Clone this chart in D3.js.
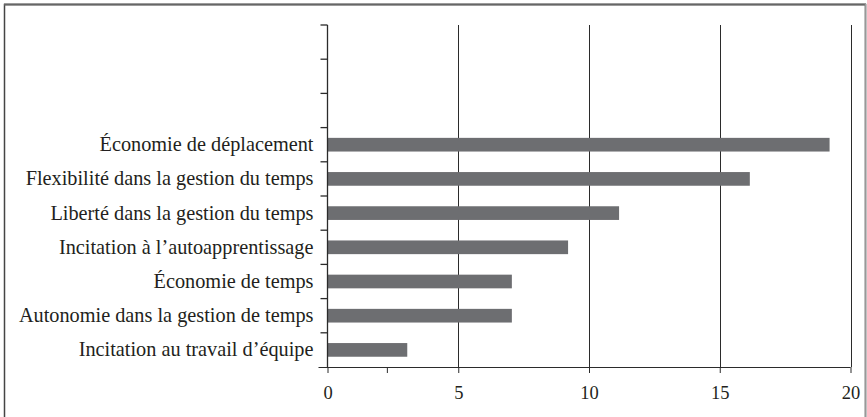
<!DOCTYPE html>
<html><head><meta charset="utf-8">
<script src="https://cdn.jsdelivr.net/npm/d3@7"></script>
<style>
html,body{margin:0;padding:0;background:#fff;}
svg{display:block;}
</style></head>
<body>
<script>
const categories = ["", " ", "  ",
  "Économie de déplacement",
  "Flexibilité dans la gestion du temps",
  "Liberté dans la gestion du temps",
  "Incitation à l’autoapprentissage",
  "Économie de temps",
  "Autonomie dans la gestion de temps",
  "Incitation au travail d’équipe"];
const values = [null, null, null, 19.2, 16.15, 11.15, 9.2, 7.05, 7.05, 3.05];
const xTicks = [0, 5, 10, 15, 20];
const xTickLabels = ["0", "5", "10", "15", "20"];
const minorTicks = [2.27];

(function () {
const W = 867, H = 417;
const FONT = '"Liberation Serif"';
const INK = "#231f20";
const svg = d3.select("body").append("svg").attr("width", W).attr("height", H)
  .attr("font-family", "Liberation Serif");

// frame
svg.append("path").attr("d", "M4.5,420V4.5H865.5V420")
  .attr("fill", "none").attr("stroke", "#444").attr("stroke-width", 1.5);
svg.append("line").attr("x1", 4).attr("x2", 866).attr("y1", 4.5).attr("y2", 4.5)
  .attr("stroke", "#666").attr("stroke-width", 2);
svg.append("line").attr("x1", 865.5).attr("x2", 865.5).attr("y1", 4).attr("y2", 420)
  .attr("stroke", "#999").attr("stroke-width", 1.5);

const mLeft = 327.5, mRight = 850.5, mTop = 25, mBottom = 367;
const x = d3.scaleLinear().domain([0, 20]).range([mLeft, mRight]);
const y = d3.scaleBand().domain(categories).range([mTop, mBottom]).paddingInner(0.6).paddingOuter(0.3);

const g = svg.append("g");

// gridlines
g.selectAll("line.grid").data(xTicks.filter(d => d > 0)).join("line")
  .attr("class", "grid")
  .attr("x1", d => Math.round(x(d)) + 0.5).attr("x2", d => Math.round(x(d)) + 0.5)
  .attr("y1", mTop).attr("y2", mBottom)
  .attr("stroke", "#2b2b2b").attr("stroke-width", 1);

// bars
const data = categories.map((c, i) => ({c, v: values[i]})).filter(d => d.v != null);
g.selectAll("rect.bar").data(data).join("rect")
  .attr("class", "bar")
  .attr("x", x(0)).attr("y", d => y(d.c))
  .attr("width", d => x(d.v) - x(0)).attr("height", y.bandwidth())
  .attr("fill", "#6d6e71");

// y labels
const fs = 20.3;
g.selectAll("text.ylab").data(categories.filter(c => c.trim() !== "")).join("text")
  .attr("class", "ylab")
  .attr("x", mLeft - 14)
  .attr("y", d => y(d) + y.bandwidth() / 2 + 6.5)
  .attr("text-anchor", "end")
  .attr("font-family", "Liberation Serif")
  .style("font-family", FONT).style("font-size", fs + "px").style("fill", INK)
  .text(d => d);

// x axis
const xAxis = d3.axisBottom(x).tickValues(xTicks.concat(minorTicks))
  .tickFormat(d => { const i = xTicks.indexOf(d); return i >= 0 ? xTickLabels[i] : ""; })
  .tickSize(6).tickPadding(13);
const gx = g.append("g").attr("transform", `translate(0,${mBottom})`).call(xAxis)
  .attr("font-family", "Liberation Serif");
gx.select(".domain").attr("d", `M${mLeft - 9},0.5H${mRight}`).attr("stroke", "#2b2b2b");
gx.selectAll(".tick line").attr("stroke", "#2b2b2b");
gx.selectAll(".tick text").style("font-size", "18.5px").style("font-family", FONT).style("fill", INK);

// y axis: ticks at band boundaries
const step = y.step();
const bounds = d3.range(categories.length + 1).map(i => y.range()[0] + i * step);
g.append("line").attr("x1", mLeft).attr("x2", mLeft).attr("y1", mTop).attr("y2", mBottom)
  .attr("stroke", "#2b2b2b").attr("stroke-width", 1.3);
g.selectAll("line.ytick").data(bounds.slice(0, -1)).join("line")
  .attr("class", "ytick")
  .attr("x1", mLeft - 7).attr("x2", mLeft).attr("y1", d => d).attr("y2", d => d)
  .attr("stroke", "#2b2b2b").attr("stroke-width", 1.3);
})();
</script>
</body></html>
